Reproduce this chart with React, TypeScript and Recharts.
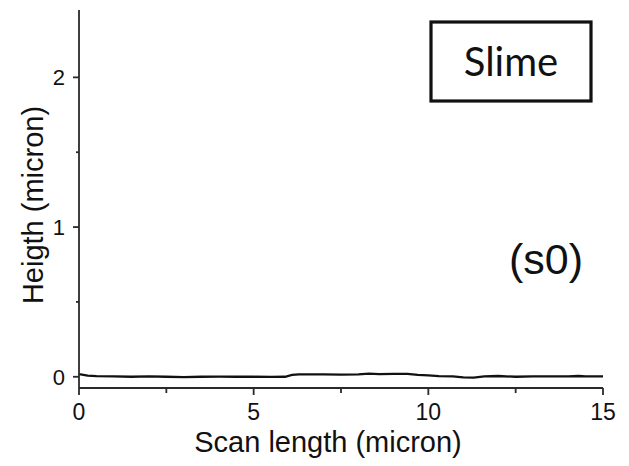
import { LineChart, Line, XAxis, YAxis, Customized } from "recharts";

// scan position (micron) and measured height (micron)
const scanX = [
  0, 0.25, 0.5, 1, 1.5, 2, 2.5, 3, 3.5, 4, 4.5, 5, 5.5, 5.9, 6.1, 6.3, 7, 7.5, 8, 8.3, 8.6,
  9, 9.4, 9.7, 10, 10.3, 10.7, 11, 11.3, 11.6, 12, 12.5, 13, 13.5, 14, 14.3, 14.5, 15,
];
const heightY = [
  0.018, 0.008, 0.004, 0.002, 0.0, 0.002, 0.0, -0.002, 0.0, 0.001, 0.0, 0.0, -0.001, 0.0, 0.012,
  0.016, 0.016, 0.014, 0.016, 0.021, 0.018, 0.02, 0.019, 0.013, 0.009, 0.004, 0.002, -0.004,
  -0.006, 0.002, 0.005, 0.0, 0.002, 0.003, 0.002, 0.005, 0.002, 0.002,
];

const xTicks = [0, 2.5, 5, 7.5, 10, 12.5, 15];
const yTicks = [0, 0.5, 1, 1.5, 2];
const xLabeled = [0, 5, 10, 15];
const yLabeled = [0, 1, 2];

const data = scanX.map((x, i) => ({ x, h: heightY[i] }));

const FONT = "Liberation Sans, Arial, sans-serif";
const AXIS = "#2a2a2a";

function XTick(props: any) {
  const { x, y, payload } = props;
  const major = xLabeled.includes(payload.value);
  return (
    <g>
      <line x1={x} x2={x} y1={y} y2={y + (major ? 7 : 5)} stroke={AXIS} strokeWidth={1.8} />
      {major && (
        <text x={x} y={y + 32} textAnchor="middle" style={{ fontSize: 23, fontFamily: FONT }} fill="#111">
          {payload.value}
        </text>
      )}
    </g>
  );
}

function YTick(props: any) {
  const { x, y, payload } = props;
  const major = yLabeled.includes(payload.value);
  return (
    <g>
      <line x1={x - (major ? 6 : 3)} x2={x} y1={y} y2={y} stroke={AXIS} strokeWidth={1.8} />
      {major && (
        <text x={x - 14} y={y + 8} textAnchor="end" style={{ fontSize: 22, fontFamily: FONT }} fill="#111">
          {payload.value}
        </text>
      )}
    </g>
  );
}

function Annotations() {
  return (
    <g>
      <rect x={431} y={22} width={160} height={79} fill="none" stroke="#111" strokeWidth={3.2} />
      <text x={511} y={76} textAnchor="middle" style={{ fontSize: 40, fontFamily: "Lato, sans-serif" }} fill="#111">
        Slime
      </text>
      <text x={546} y={274} textAnchor="middle" style={{ fontSize: 43, fontFamily: FONT }} fill="#111">
        (s0)
      </text>
    </g>
  );
}

export default function App() {
  return (
    <div style={{ position: "absolute", left: 0, top: 0, width: 629, height: 466, background: "#fff" }}>
      <LineChart width={629} height={466} data={data} margin={{ top: 10, right: 26, bottom: 0, left: 0 }}>
        <XAxis
          type="number"
          dataKey="x"
          domain={[0, 15]}
          ticks={xTicks}
          allowDataOverflow
          height={78}
          tickSize={0}
          tickMargin={0}
          tickLine={false}
          tick={<XTick />}
          stroke={AXIS}
          strokeWidth={1.8}
          label={(p: any) => {
            const vb = p.viewBox;
            return (
              <text x={vb.x + vb.width / 2 - 13} y={452} textAnchor="middle" style={{ fontSize: 29, fontFamily: FONT }} fill="#111">
                Scan length (micron)
              </text>
            );
          }}
        />
        <YAxis
          type="number"
          domain={[-0.075, 2.45]}
          ticks={yTicks}
          allowDataOverflow
          width={79}
          tickSize={0}
          tickMargin={0}
          tickLine={false}
          tick={<YTick />}
          stroke={AXIS}
          strokeWidth={1.8}
          label={(p: any) => {
            const vb = p.viewBox;
            const cx = 43;
            const cy = vb.y + vb.height / 2 + 6;
            return (
              <text
                x={cx}
                y={cy}
                transform={`rotate(-90 ${cx} ${cy})`}
                textAnchor="middle"
                style={{ fontSize: 29, fontFamily: FONT }}
                fill="#111"
              >
                Heigth (micron)
              </text>
            );
          }}
        />
        <Line
          type="linear"
          dataKey="h"
          stroke="#111"
          strokeWidth={2.3}
          dot={false}
          isAnimationActive={false}
        />
        <Customized component={Annotations} />
      </LineChart>
    </div>
  );
}
